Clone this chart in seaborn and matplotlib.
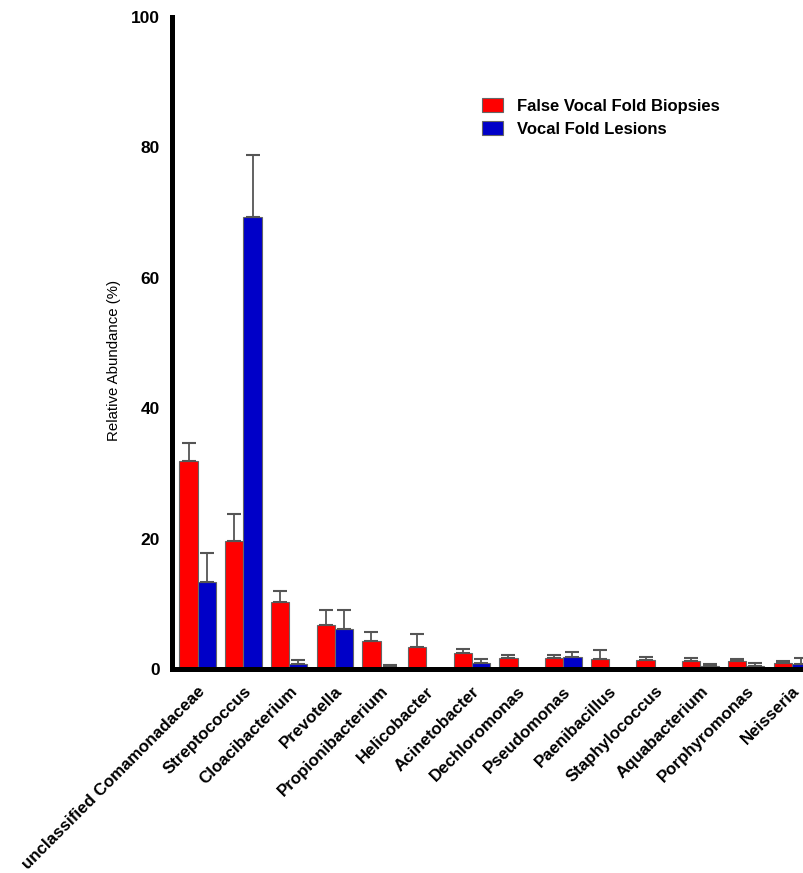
import numpy as np
import pandas as pd
import matplotlib
matplotlib.use("Agg")
import matplotlib.pyplot as plt
import matplotlib.transforms as mtransforms
import seaborn as sns

# Genus-level relative abundance (mean and upper error) for two tissue groups
genera = [
    "unclassified Comamonadaceae", "Streptococcus", "Cloacibacterium", "Prevotella",
    "Propionibacterium", "Helicobacter", "Acinetobacter", "Dechloromonas",
    "Pseudomonas", "Paenibacillus", "Staphylococcus", "Aquabacterium",
    "Porphyromonas", "Neisseria",
]
groups = ["False Vocal Fold Biopsies", "Vocal Fold Lesions"]

fvf_mean = [31.9, 19.7, 10.3, 6.8, 4.3, 3.4, 2.5, 1.75, 1.65, 1.55, 1.4, 1.3, 1.15, 0.95]
fvf_err = [2.7, 4.1, 1.6, 2.2, 1.3, 1.9, 0.6, 0.45, 0.45, 1.3, 0.5, 0.4, 0.4, 0.35]
vfl_mean = [13.4, 69.3, 0.8, 6.1, 0.35, 0.0, 0.9, 0.0, 1.9, 0.0, 0.15, 0.4, 0.45, 0.75]
vfl_err = [4.4, 9.6, 0.55, 2.9, 0.25, 0.0, 0.6, 0.0, 0.75, 0.0, 0.0, 0.3, 0.45, 0.9]

yticks = [0, 20, 40, 60, 80, 100]

df = pd.DataFrame({
    "genus": genera * 2,
    "group": [groups[0]] * len(genera) + [groups[1]] * len(genera),
    "abundance": fvf_mean + vfl_mean,
    "err": fvf_err + vfl_err,
})

sns.set_style("white")
plt.rcParams["font.family"] = ["Liberation Sans", "DejaVu Sans"]
plt.rcParams["text.color"] = "black"
plt.rcParams["axes.labelcolor"] = "black"
plt.rcParams["xtick.color"] = "black"
plt.rcParams["ytick.color"] = "black"

fig = plt.figure(figsize=(8.04, 8.73), dpi=100)
ax = fig.add_axes([0.214, 0.2337, 0.7994, 0.7468])

palette = {groups[0]: "#ff0000", groups[1]: "#0000c8"}
sns.barplot(data=df, x="genus", y="abundance", hue="group", order=genera,
            hue_order=groups, palette=palette, width=0.8, errorbar=None,
            saturation=1, edgecolor="#666666", linewidth=0.8, ax=ax)

# upper-only error bars placed on each drawn bar
bars = [p for p in ax.patches if p.get_width() > 0][: 2 * len(genera)]
errs = fvf_err + vfl_err
for bar, e in zip(bars, errs):
    if e <= 0:
        continue
    xc = bar.get_x() + bar.get_width() / 2
    h = bar.get_height()
    ax.errorbar(xc, h, yerr=[[0], [e]], fmt="none", ecolor="#555555",
                elinewidth=1.3, capsize=5, capthick=1.5, zorder=1)

ax.set_ylim(0, 100)
ax.set_xlim(-0.56, 13.5)
ax.set_yticks(yticks)
ax.set_yticklabels([str(t) for t in yticks], fontsize=12.5, fontweight="bold")
ax.set_xticks(range(len(genera)))
ax.set_xticklabels(genera, rotation=45, ha="right", va="top",
                   rotation_mode="anchor", fontsize=12.2, fontweight="bold")
shift = mtransforms.ScaledTranslation(-5 / 100, 3 / 100, fig.dpi_scale_trans)
for lbl in ax.get_xticklabels():
    lbl.set_transform(lbl.get_transform() + shift)
ax.set_xlabel("")
ax.set_ylabel("Relative Abundance (%)", fontsize=10.8, fontweight="normal")
ax.yaxis.set_label_coords(-0.080, 0.474)

for side in ["top", "right"]:
    ax.spines[side].set_visible(False)
for side in ["left", "bottom"]:
    ax.spines[side].set_linewidth(3.6)
    ax.spines[side].set_color("black")
ax.tick_params(axis="x", direction="out", length=6.5, width=3.6, color="black", pad=4)
ax.tick_params(axis="y", direction="out", length=5, width=3.2, color="black", pad=4)

leg = ax.legend(loc="upper left", bbox_to_anchor=(0.459, 0.899), frameon=False,
                prop={"size": 12, "weight": "bold"}, handlelength=1.26,
                handleheight=0.9, handletextpad=0.84, labelspacing=0.45)

fig.savefig("out.png", dpi=100)
